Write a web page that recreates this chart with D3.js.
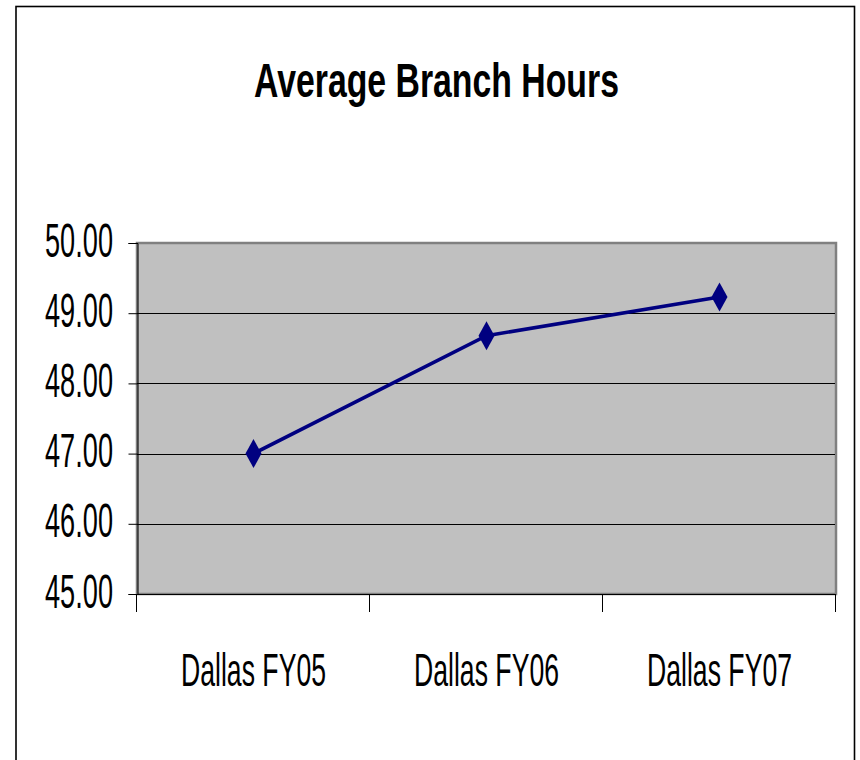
<!DOCTYPE html>
<html>
<head>
<meta charset="utf-8">
<script src="https://cdn.jsdelivr.net/npm/d3@7"></script>
<style>
  body { margin: 0; background: #fff; }
  text { font-family: "Liberation Sans", Arial, sans-serif; }
</style>
</head>
<body>
<div id="root"></div>
<script>
const width = 860;
const height = 760;

// data
const categories = ["Dallas FY05", "Dallas FY06", "Dallas FY07"];
const hours = [47.00, 48.68, 49.23];
const yTicks = [45, 46, 47, 48, 49, 50];
const title = "Average Branch Hours";

const plot = { left: 137, right: 836, top: 243, bottom: 594 };

// squeeze a text horizontally so it spans `target` px (the chart uses a condensed face)
const squeeze = (sel, target, cx, cy) => {
	sel.each(function (d, i) {
		const node = d3.select(this);
		const len = this.getComputedTextLength();
		const s = target / len;
		node.attr("x", 0).attr("y", 0)
			.attr("transform", `translate(${cx(d, i)}, ${cy(d, i)}) scale(${s}, 1)`);
	});
};

const svg = d3.select("#root")
	.append("svg")
		.attr("width", width)
		.attr("height", height);

// outer chart border (bottom edge runs off the page)
svg.append("rect")
	.attr("x", 16)
	.attr("y", 6.5)
	.attr("width", 838.5)
	.attr("height", 820)
	.style("fill", "#fff")
	.style("stroke", "#000")
	.style("stroke-width", 1.6);

// title
svg.append("text")
	.attr("text-anchor", "middle")
	.style("font-size", "49px")
	.style("font-weight", "bold")
	.text(title)
	.call(squeeze, 365, () => 436.5, () => 97);

const x = d3.scaleBand()
	.domain(categories)
	.range([plot.left, plot.right])
	.padding(0);

const y = d3.scaleLinear()
	.domain([45, 50])
	.range([plot.bottom, plot.top]);

// plot area
svg.append("rect")
	.attr("x", plot.left)
	.attr("y", plot.top)
	.attr("width", plot.right - plot.left)
	.attr("height", plot.bottom - plot.top)
	.style("fill", "#c0c0c0")
	.style("stroke", "#808080")
	.style("stroke-width", 2.5);

// gridlines
svg.append("g")
	.selectAll("line")
	.data(yTicks.filter(d => d > 45 && d < 50)).enter()
	.append("line")
		.attr("x1", plot.left)
		.attr("x2", plot.right - 1)
		.attr("y1", d => Math.round(y(d)) + 0.5)
		.attr("y2", d => Math.round(y(d)) + 0.5)
		.style("stroke", "#000")
		.style("stroke-width", 1);

// y axis
const yAxis = svg.append("g")
	.attr("transform", `translate(${plot.left + 0.5}, 0)`)
	.call(d3.axisLeft(y)
		.tickValues(yTicks)
		.tickFormat(d3.format(".2f"))
		.tickSize(9));
yAxis.select(".domain").style("stroke", "#000");
yAxis.selectAll(".tick line").style("stroke", "#000");
yAxis.selectAll(".tick text")
	.attr("dy", null)
	.attr("text-anchor", "end")
	.style("font-size", "48px")
	.style("fill", "#000")
	.style("font-family", "'Liberation Sans', Arial, sans-serif")
	.call(squeeze, 68, () => -24.5, () => 13);

// x axis: line, tick marks at band edges, labels at band centres
const xAxis = svg.append("g");
xAxis.append("line")
	.attr("x1", plot.left)
	.attr("x2", plot.right)
	.attr("y1", plot.bottom + 0.5)
	.attr("y2", plot.bottom + 0.5)
	.style("stroke", "#000");

const edges = categories.map(c => x(c)).concat([x.range()[1]]);
xAxis.selectAll(".xtick")
	.data(edges).enter()
	.append("line")
		.attr("class", "xtick")
		.attr("x1", d => Math.round(d) - 0.5)
		.attr("x2", d => Math.round(d) - 0.5)
		.attr("y1", plot.bottom)
		.attr("y2", plot.bottom + 18)
		.style("stroke", "#000");

xAxis.selectAll(".xlabel")
	.data(categories).enter()
	.append("text")
		.attr("class", "xlabel")
		.attr("text-anchor", "middle")
		.style("font-size", "46px")
		.text(d => d)
		.call(squeeze, 145, d => x(d) + x.bandwidth() / 2, () => 686);

// series line
const points = categories.map((c, i) => ({ c, v: hours[i] }));
const line = d3.line()
	.x(d => x(d.c) + x.bandwidth() / 2)
	.y(d => y(d.v));

svg.append("path")
	.datum(points)
	.attr("d", line)
	.style("fill", "none")
	.style("stroke", "#000080")
	.style("stroke-width", 3.6);

// diamond markers
svg.append("g")
	.selectAll("path")
	.data(points).enter()
	.append("path")
		.attr("transform", d => `translate(${x(d.c) + x.bandwidth() / 2}, ${y(d.v)})`)
		.attr("d", "M 0 -14.5 L 8 0 L 0 14.5 L -8 0 Z")
		.style("fill", "#000080");
</script>
</body>
</html>
